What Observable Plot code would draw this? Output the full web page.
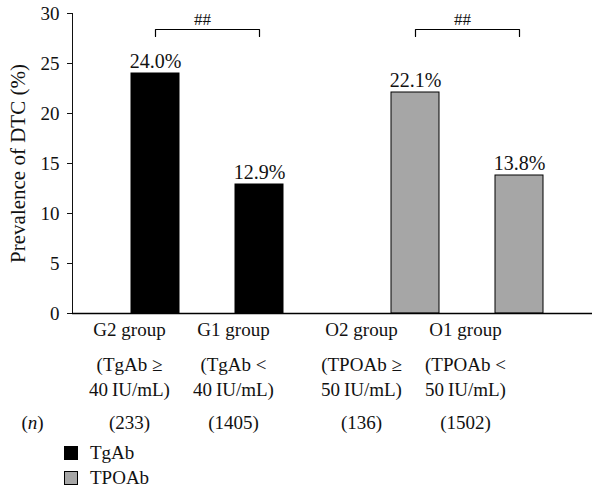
<!DOCTYPE html>
<html>
<head>
<meta charset="utf-8">
<script src="https://cdn.jsdelivr.net/npm/d3@7"></script>
<script src="https://cdn.jsdelivr.net/npm/@observablehq/plot@0.6"></script>
<style>
  body { margin: 0; background: #fff; }
  #chart { width: 592px; font-family: "Liberation Serif", "DejaVu Serif", serif; }
  .legend { margin-left: 64px; font-family: "Liberation Serif", serif; font-size: 19px; color: #111; }
  .legend .item { height: 25px; display: flex; align-items: center; }
  .legend .sw { width: 12px; height: 12px; border: 1.2px solid #000; margin-right: 12px; flex: none; }
</style>
</head>
<body>
<div id="chart"></div>
<script>
// ---- data ----
const groups = ["G2 group", "G1 group", "O2 group", "O1 group"];
const antibodies = ["TgAb", "TgAb", "TPOAb", "TPOAb"];
const levels = ["high", "low", "high", "low"];
const prevalence = [24.0, 12.9, 22.1, 13.8];
const criteriaLine1 = ["(TgAb \u2265", "(TgAb <", "(TPOAb \u2265", "(TPOAb <"];
const criteriaLine2 = ["40\u2009IU/mL)", "40\u2009IU/mL)", "50\u2009IU/mL)", "50\u2009IU/mL)"];
const counts = [233, 1405, 136, 1502];
const antibodyTypes = ["TgAb", "TPOAb"];
const antibodyColors = ["#000000", "#a6a6a6"];
const significance = ["##", "##"];
const yTicks = [0, 5, 10, 15, 20, 25, 30];
const bracketLevels = [28.4, 27.7]; // bracket top, bracket foot (in %)

const data = groups.map((g, i) => ({
  group: g, antibody: antibodies[i], level: levels[i], prevalence: prevalence[i],
  c1: criteriaLine1[i], c2: criteriaLine2[i], n: counts[i]
}));

const brackets = antibodyTypes.flatMap((a, i) => [
  {antibody: a, level: "high", y: bracketLevels[1]},
  {antibody: a, level: "high", y: bracketLevels[0]},
  {antibody: a, level: "low", y: bracketLevels[0]},
  {antibody: a, level: "low", y: bracketLevels[1]}
]);
const bracketLabels = antibodyTypes.map((a, i) => ({antibody: a, y: bracketLevels[0], label: significance[i]}));

const labelShift = {TgAb: -26, TPOAb: -54};
const labelRows = [
  {field: "group", dy: 22},
  {field: "c1", dy: 57},
  {field: "c2", dy: 82},
  {field: d => `(${d.n})`, dy: 115}
];
const labelMarks = [];
for (const a of antibodyTypes) {
  const sub = data.filter(d => d.antibody === a);
  for (const r of labelRows) {
    labelMarks.push(Plot.text(sub, {
      fx: "antibody", x: "level", frameAnchor: "bottom",
      text: r.field, dy: r.dy, dx: labelShift[a], fontSize: 19, fill: "#111"
    }));
  }
}

const chart = Plot.plot({
  width: 592,
  height: 440,
  marginLeft: 72,
  marginRight: 0,
  marginTop: 13,
  marginBottom: 127,
  style: {fontFamily: "Liberation Serif, serif", fontSize: "19px", color: "#111", background: "#fff"},
  fx: {domain: antibodyTypes, padding: 0, axis: null, label: null},
  x: {domain: ["high", "low"], paddingInner: 0.543, paddingOuter: 0.51, align: 0.542, axis: null},
  y: {domain: [0, 30], axis: null},
  color: {domain: antibodyTypes, range: antibodyColors},
  marks: [
    Plot.axisY(yTicks, {
      tickSize: 5, tickPadding: 8, fontSize: 19
    }),
    Plot.axisY({
      ticks: [], tickSize: 0, label: "Prevalence of DTC (%)",
      labelAnchor: "center", labelOffset: 62, labelArrow: false, fontSize: 21
    }),
    Plot.frame({anchor: "left", facetAnchor: "left"}),
    Plot.barY(data, {fx: "antibody", x: "level", y: "prevalence", fill: "antibody", stroke: "#000", strokeWidth: 1}),
    Plot.ruleY([0], {stroke: "#000", strokeWidth: 1.3}),
    Plot.text(data, {fx: "antibody", x: "level", y: "prevalence", text: d => d.prevalence.toFixed(1) + "%", dy: -12, fontSize: 20, fill: "#111"}),
    Plot.line(brackets, {fx: "antibody", x: "level", y: "y", z: "antibody", stroke: "#000", strokeWidth: 1.2}),
    Plot.text(bracketLabels, {fx: "antibody", y: "y", text: "label", dy: -10, fontSize: 17, fill: "#111"}),
    ...labelMarks,
    Plot.text(["(n)"], {fx: () => "TgAb", frameAnchor: "bottom-left", text: d => d, dy: 115, dx: -51, fontSize: 19, fill: "#111", className: "nlabel"})
  ]
});

const root = document.getElementById("chart");
root.appendChild(chart);
// italicise the "n" in (n)
chart.querySelectorAll(".nlabel text").forEach(t => {
  if (t.textContent === "(n)") t.innerHTML = '(<tspan font-style="italic">n</tspan>)';
});

// legend built from the plot's own color scale
const color = chart.scale("color");
const legend = document.createElement("div");
legend.className = "legend";
for (const a of color.domain) {
  const item = document.createElement("div");
  item.className = "item";
  const sw = document.createElement("span");
  sw.className = "sw";
  sw.style.background = color.apply(a);
  const label = document.createElement("span");
  label.textContent = a;
  item.append(sw, label);
  legend.appendChild(item);
}
root.appendChild(legend);
</script>
</body>
</html>
